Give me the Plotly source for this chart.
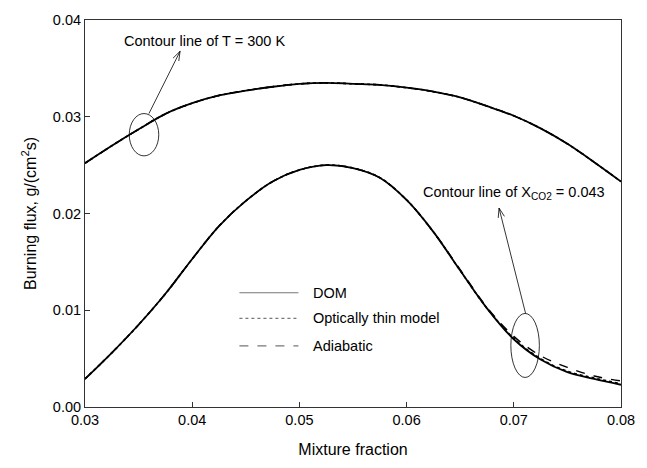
import math
import plotly.graph_objects as go

# ---------------- data ----------------
x_vals = [0.0300, 0.0325, 0.0350, 0.0375, 0.0400, 0.0425, 0.0450, 0.0475, 0.0500,
          0.0525, 0.0550, 0.0575, 0.0600, 0.0625, 0.0650, 0.0675, 0.0700, 0.0725,
          0.0750, 0.0775, 0.0800]

# contour line of T = 300 K
top_dom = [0.0252, 0.0270, 0.0287, 0.0303, 0.0314, 0.0322, 0.0327, 0.0331, 0.0334,
           0.0335, 0.0334, 0.0333, 0.0330, 0.0326, 0.0320, 0.0311, 0.0301, 0.0288,
           0.0272, 0.0253, 0.0233]
top_thin = [0.0252, 0.0270, 0.0287, 0.0303, 0.0314, 0.0322, 0.0327, 0.0331, 0.0334,
            0.0335, 0.0334, 0.0333, 0.0330, 0.0326, 0.0320, 0.0311, 0.0301, 0.0288,
            0.0272, 0.0253, 0.0233]
top_adia = [0.0252, 0.0270, 0.0287, 0.0303, 0.0314, 0.0322, 0.0327, 0.0331, 0.0334,
            0.0335, 0.0334, 0.0333, 0.0330, 0.0326, 0.0320, 0.0311, 0.0301, 0.0288,
            0.0272, 0.0253, 0.0233]

# contour line of X_CO2 = 0.043
bot_dom = [0.0029, 0.0056, 0.0085, 0.0117, 0.0153, 0.0187, 0.0213, 0.0233, 0.0245,
           0.0250, 0.0247, 0.0237, 0.0214, 0.0181, 0.0141, 0.0102, 0.0070, 0.0049,
           0.0036, 0.0029, 0.0023]
bot_thin = [0.0029, 0.0056, 0.0085, 0.0117, 0.0153, 0.0187, 0.0213, 0.0233, 0.0245,
            0.0250, 0.0247, 0.0237, 0.0214, 0.0181, 0.0141, 0.0102, 0.0071, 0.0050,
            0.0037, 0.0030, 0.0024]
bot_adia = [0.0029, 0.0056, 0.0085, 0.0117, 0.0153, 0.0187, 0.0213, 0.0233, 0.0245,
            0.0250, 0.0247, 0.0237, 0.0214, 0.0181, 0.0142, 0.0103, 0.0073, 0.0053,
            0.0041, 0.0032, 0.0027]

series_names = ["DOM", "Optically thin model", "Adiabatic"]
x_ticks = [0.03, 0.04, 0.05, 0.06, 0.07, 0.08]
y_ticks = [0.00, 0.01, 0.02, 0.03, 0.04]

# ---------------- layout constants ----------------
W, H = 647, 468
ML, MR, MT, MB = 85, 17, 20, 55
X0, X1 = 0.03, 0.08
Y0, Y1 = 0.0, 0.04
PW, PH = W - ML - MR, H - MT - MB
FONT = "Arial, Liberation Sans, sans-serif"


def px2data(px, py):
    return (X0 + (px - ML) / PW * (X1 - X0), Y0 + (H - MB - py) / PH * (Y1 - Y0))


fig = go.Figure()
styles = [dict(dash="solid", width=1.8), dict(dash="dot", width=1.6), dict(dash="dash", width=1.4)]
for name, st, ty, by in zip(series_names, styles, [top_dom, top_thin, top_adia],
                            [bot_dom, bot_thin, bot_adia]):
    for ys in (ty, by):
        fig.add_trace(go.Scatter(x=x_vals, y=ys, mode="lines", name=name, showlegend=False,
                                 line=dict(color="black", shape="spline", smoothing=1.0, **st)))

shapes = []
annotations = []

# ellipses
for (ax0, ay0, ax1, ay1) in [(130, 115, 160, 158), (518, 318, 547, 383)]:
    a, b = px2data(ax0, ay0)
    c, d = px2data(ax1, ay1)
    shapes.append(dict(type="circle", xref="x", yref="y", x0=a, x1=c, y0=d, y1=b,
                       line=dict(color="black", width=0.8)))

# arrows (tail -> head) with open V heads
for (tx, ty, hx, hy) in [(150, 115, 181.7, 51.7), (533, 318, 506, 211)]:
    t = px2data(tx, ty)
    h = px2data(hx, hy)
    shapes.append(dict(type="line", xref="x", yref="y", x0=t[0], y0=t[1], x1=h[0], y1=h[1],
                       line=dict(color="black", width=0.8)))
    ang = math.atan2(ty - hy, tx - hx)
    pts = []
    for da in (0.33, -0.33):
        pts.append(px2data(hx + 10 * math.cos(ang + da), hy + 10 * math.sin(ang + da)))
    path = f"M{pts[0][0]},{pts[0][1]} L{h[0]},{h[1]} L{pts[1][0]},{pts[1][1]}"
    shapes.append(dict(type="path", xref="x", yref="y", path=path,
                       line=dict(color="black", width=0.8)))

# text labels
lx, ly = px2data(207, 41)
annotations.append(dict(x=lx, y=ly, xref="x", yref="y", text="Contour line of T = 300 K",
                        showarrow=False, xanchor="center", yanchor="middle",
                        font=dict(size=14.5, color="black", family=FONT)))
lx, ly = px2data(427, 196)
annotations.append(dict(x=lx, y=ly, xref="x", yref="y",
                        text="Contour line of X<sub>CO2</sub> = 0.043",
                        showarrow=False, xanchor="left", yanchor="middle",
                        font=dict(size=14.5, color="black", family=FONT)))

# manual legend
leg_rows = [297, 323, 351]
for name, st, ry in zip(series_names, styles, leg_rows):
    yy = (H - MB - ry) / PH
    shapes.append(dict(type="line", xref="paper", yref="paper",
                       x0=(242 - ML) / PW, x1=(302 - ML) / PW, y0=yy, y1=yy,
                       line=dict(color="#777777", width=1.2, dash=st["dash"])))
    annotations.append(dict(x=(315 - ML) / PW, y=yy, xref="paper", yref="paper", text=name,
                            showarrow=False, xanchor="left", yanchor="middle",
                            font=dict(size=14.5, color="black", family=FONT)))

axis_common = dict(showgrid=False, zeroline=False, showline=True, linecolor="#333333",
                   linewidth=1, mirror=True, ticks="inside", ticklen=5, tickcolor="#333333",
                   tickfont=dict(size=14.5, color="black", family=FONT))

fig.update_layout(
    width=W, height=H, margin=dict(l=ML, r=MR, t=MT, b=MB),
    paper_bgcolor="white", plot_bgcolor="white", showlegend=False,
    xaxis=dict(range=[X0, X1], tickvals=x_ticks, tickformat=".2f",
               title=dict(text="Mixture fraction", standoff=16,
                          font=dict(size=16, color="black", family=FONT)),
               **axis_common),
    yaxis=dict(range=[Y0, Y1], tickvals=y_ticks, tickformat=".2f",
               title=dict(text="Burning flux, g/(cm<sup>2</sup>s)", standoff=12,
                          font=dict(size=16, color="black", family=FONT)),
               **axis_common),
    shapes=shapes, annotations=annotations,
)

fig.write_html("out.html")
